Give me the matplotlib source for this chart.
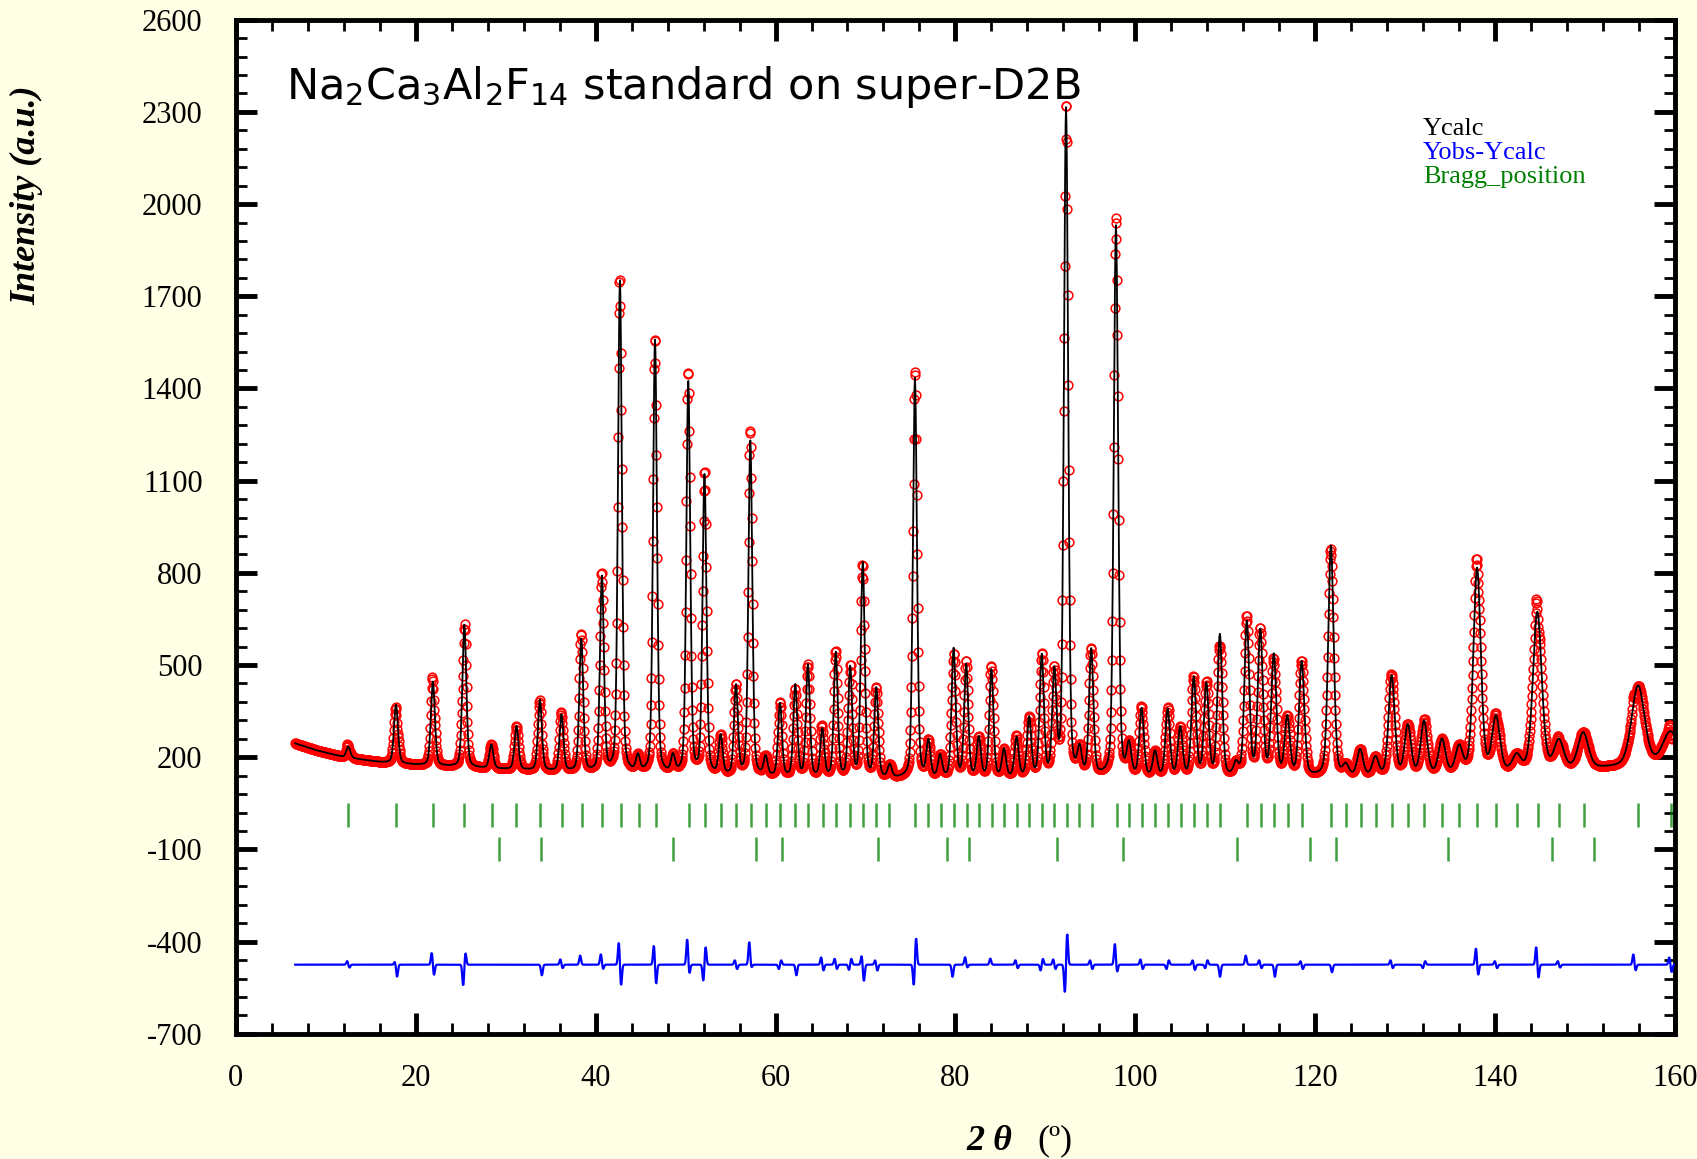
import numpy as np
import matplotlib
matplotlib.use('Agg')
import matplotlib.pyplot as plt

plt.rcParams['axes.unicode_minus'] = False
plt.rcParams['mathtext.default'] = 'regular'

# peaks: 2theta (deg) and peak top (counts)
peak_pos = [12.5, 17.8, 21.9, 25.4, 28.4, 31.2, 33.8, 36.2, 38.4, 40.7,
            42.7, 44.7, 46.6, 48.6, 50.3, 52.1, 53.9, 55.6, 57.2, 58.9,
            60.5, 62.2, 63.6, 65.2, 66.7, 68.3, 69.7, 71.2, 72.7, 75.5,
            77.0, 78.3, 79.8, 81.2, 82.6, 84.0, 85.4, 86.8, 88.2, 89.6,
            91.0, 92.3, 93.8, 95.1, 97.85, 99.3, 100.7, 102.2, 103.6, 105.0,
            106.5, 107.9, 109.4, 111.2, 112.4, 113.9, 115.4, 116.9, 118.5, 121.75,
            123.4, 125.0, 126.7, 128.5, 130.3, 132.1, 134.1, 136.0, 138.0, 140.1,
            142.4, 144.7, 147.1, 149.8, 155.9, 159.5]
peak_top = [234, 370, 445, 630, 240, 300, 385, 335, 580, 780,
            1745, 195, 1553, 195, 1414, 1110, 262, 425, 1225, 195,
            370, 430, 495, 285, 535, 485, 826, 418, 170, 1431,
            245, 200, 548, 495, 258, 480, 220, 258, 322, 522,
            460, 2305, 212, 540, 1925, 230, 350, 212, 350, 290,
            452, 430, 592, 172, 632, 603, 524, 322, 505, 885,
            168, 220, 195, 460, 298, 312, 252, 226, 810, 322,
            198, 668, 248, 276, 430, 280]

# background points (linear interpolation between them)
bkg_pos = [6.6, 9, 12, 16, 20, 30, 40, 50, 60, 70, 75, 80, 90, 100,
           110, 120, 130, 140, 150, 155, 160]
bkg_val = [245, 222, 200, 184, 175, 160, 148, 140, 134, 130, 128, 130, 132, 132,
           132, 134, 138, 146, 160, 168, 175]

# instrument resolution (Caglioti U, V, W) and pseudo-Voigt mixing
U, V, W = 0.15, -0.15, 0.30
ETA = 0.3

# Bragg reflections: main phase and second phase
bragg_main = [12.49, 17.79, 21.87, 25.35, 28.43, 31.20, 33.80, 36.21, 38.43, 40.66,
              42.77, 44.77, 46.70, 50.40, 52.14, 53.89, 55.59, 57.23, 58.93, 60.48,
              62.15, 63.63, 65.23, 66.71, 68.27, 69.68, 71.16, 72.64, 75.49, 76.97,
              78.35, 79.83, 81.24, 82.64, 84.02, 85.39, 86.80, 88.20, 89.58, 90.98,
              92.36, 93.76, 95.14, 97.92, 99.32, 100.70, 102.18, 103.66, 105.04, 106.52,
              107.93, 109.41, 112.38, 113.93, 115.41, 116.93, 118.49, 121.75, 123.38, 125.05,
              126.75, 128.50, 130.28, 132.12, 134.06, 136.01, 138.01, 140.09, 142.39, 144.73,
              147.13, 149.87, 155.91, 159.52]
bragg_second = [29.24, 33.88, 48.62, 57.82, 60.71, 71.42, 79.02, 81.46, 91.32, 98.66,
                111.33, 119.41, 122.30, 134.79, 146.35, 150.99]

# misfit around the reflections: position, left lobe, right lobe
diff_pos = [12.5, 17.8, 21.9, 25.4, 33.9, 36.2, 38.4, 40.7, 42.7, 46.6,
            50.3, 52.1, 55.6, 57.2, 60.5, 62.2, 65.2, 66.7, 68.3, 69.7,
            71.2, 75.5, 79.8, 81.2, 84.0, 86.8, 89.6, 91.0, 92.3, 95.1,
            97.85, 100.7, 103.6, 106.5, 107.9, 109.3, 112.4, 113.9, 115.4, 118.5,
            121.75, 128.5, 132.1, 138.0, 140.1, 144.7, 147.1, 155.5, 159.5]
diff_left = [12, 10, 40, -70, 0, 18, 30, 35, 75, 65,
             85, -55, 15, 75, -15, 0, 25, 20, -18, 30,
             15, -70, -40, 25, 20, 15, -20, 18, -95, 15,
             70, 18, -15, 15, -12, 0, 30, 15, 0, 12,
             0, 15, -12, 55, 12, 60, 12, 35, 25]
diff_right = [-10, -40, -35, 40, -35, -12, 0, -15, -70, -65,
              -30, 60, -15, -10, 15, -35, -20, -15, 20, -55,
              -20, 90, 0, -10, 0, -12, 20, -15, 105, -15,
              -25, -15, 15, -18, 15, -40, 0, -12, -40, -15,
              -25, -12, 12, -35, -12, -45, -10, -20, -25]
DIFF_OFFSET = -475

tth = np.arange(6.6, 160.0, 0.05)
bkg = np.interp(tth, bkg_pos, bkg_val)

ycalc = bkg.copy()
for p, top in zip(peak_pos, peak_top):
    t = np.tan(np.radians(p / 2))
    fwhm = np.sqrt(U * t ** 2 + V * t + W)
    x = (tth - p) / fwhm
    shape = ETA / (1 + 4 * x ** 2) + (1 - ETA) * np.exp(-4 * np.log(2) * x ** 2)
    ycalc += (top - np.interp(p, bkg_pos, bkg_val)) * shape

diff = np.zeros_like(tth)
for p, a, b in zip(diff_pos, diff_left, diff_right):
    diff += a * np.exp(-0.5 * ((tth - p + 0.12) / 0.1) ** 2)
    diff += b * np.exp(-0.5 * ((tth - p - 0.12) / 0.1) ** 2)
yobs = ycalc + diff

fig = plt.figure(figsize=(16.97, 11.59), dpi=100, facecolor='#ffffe6')
ax = fig.add_axes([0.139, 0.108, 0.848, 0.875])
ax.set_facecolor('white')

ax.plot(tth, yobs, 'o', mfc='none', mec='red', ms=6.3, mew=1.1, zorder=2)
ax.plot(tth, ycalc, color='black', lw=1.3, zorder=3)
ax.plot(tth, diff + DIFF_OFFSET, color='#0000ff', lw=1.6, zorder=3)
ax.vlines(bragg_main, -27, 51, color='#008000', lw=1.8, alpha=0.75, zorder=3)
ax.vlines(bragg_second, -136, -58, color='#008000', lw=1.8, alpha=0.75, zorder=3)

ax.set_xlim(0, 160)
ax.set_ylim(-700, 2600)
ax.set_xticks(np.arange(0, 161, 20))
ax.set_xticks(np.arange(0, 161, 4), minor=True)
ax.set_yticks(np.arange(-700, 2601, 300))
ax.set_yticks(np.arange(-700, 2601, 60), minor=True)

for s in ax.spines.values():
    s.set_linewidth(3.5)
ax.tick_params(which='both', direction='in', top=True, right=True, width=2)
ax.tick_params(which='major', length=15, width=3.5)
ax.tick_params(which='minor', length=8)
ax.tick_params(axis='y', pad=24)
ax.tick_params(axis='x', pad=22)
for lab in ax.get_xticklabels() + ax.get_yticklabels():
    lab.set_fontfamily('Liberation Serif')
    lab.set_fontsize(22)

ax.text(0.035, 0.934, r'Na$_2$Ca$_3$Al$_2$F$_{14}$ standard on super-D2B',
        transform=ax.transAxes, fontsize=31, family='DejaVu Sans', va='center')

fig.text(1423 / 1697, 1 - 129 / 1159, 'Ycalc', color='black',
         family='Liberation Serif', fontsize=19, va='center')
fig.text(1423 / 1697, 1 - 153 / 1159, 'Yobs-Ycalc', color='#0000ff',
         family='Liberation Serif', fontsize=19, va='center')
fig.text(1423 / 1697, 1 - 177 / 1159, 'Bragg_position', color='#008000',
         family='Liberation Serif', fontsize=19, va='center')

fig.text(27 / 1697, 1 - 195 / 1159, 'Intensity (a.u.)', rotation=90,
         family='Liberation Serif', weight='bold', style='italic',
         fontsize=26, ha='center', va='center')
fig.text(966 / 1697, 1 - 1141 / 1159, '2 θ', family='Liberation Serif',
         weight='bold', style='italic', fontsize=26, va='center')
fig.text(1037 / 1697, 1 - 1141 / 1159, '(º)', family='Liberation Serif',
         fontsize=26, va='center')

fig.savefig('out.png', dpi=100, facecolor=fig.get_facecolor())
